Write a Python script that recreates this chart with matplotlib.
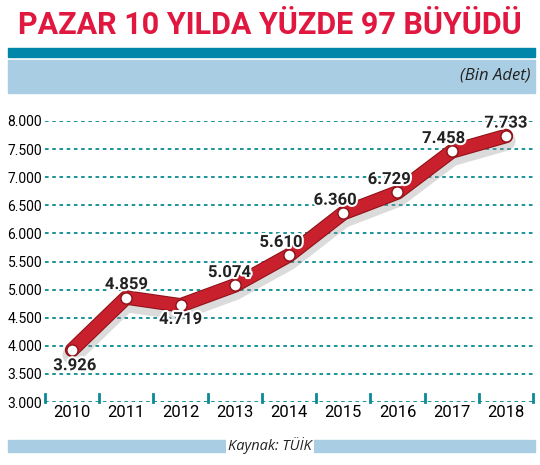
import matplotlib
matplotlib.use("Agg")
import matplotlib.pyplot as plt
import matplotlib.patheffects as pe
from matplotlib.patches import Rectangle

years = ["2010","2011","2012","2013","2014","2015","2016","2017","2018"]
values = [3926, 4859, 4719, 5074, 5610, 6360, 6729, 7458, 7733]
labels = ["3.926","4.859","4.719","5.074","5.610","6.360","6.729","7.458","7.733"]
yticks = [3000,3500,4000,4500,5000,5500,6000,6500,7000,7500,8000]
ytick_labels = ["3.000","3.500","4.000","4.500","5.000","5.500","6.000","6.500","7.000","7.500","8.000"]

fam = ["Roboto", "DejaVu Sans"]
fig = plt.figure(figsize=(5.4, 4.65), dpi=100)
fig.patch.set_facecolor("white")
W, H = 540, 465
def fx(x): return x / W
def fy(y): return 1 - y / H

fig.text(0.5, fy(25), "PAZAR 10 YILDA YÜZDE 97 BÜYÜDÜ", ha="center", va="center",
         fontsize=22, color="#e0173f", family=fam, fontweight="bold")
fig.add_artist(Rectangle((fx(8), fy(57)), fx(527), 9 / H, transform=fig.transFigure, color="#0086a8"))
fig.add_artist(Rectangle((fx(8), fy(93)), fx(527), 33 / H, transform=fig.transFigure, color="#a9cde2"))
fig.text(fx(530), fy(76), "(Bin Adet)", ha="right", va="center", fontsize=12, style="italic",
         color="#222222", family="Open Sans")
fig.add_artist(Rectangle((fx(8), fy(452)), fx(527), 12 / H, transform=fig.transFigure, color="#a9cde2"))
fig.text(0.5, fy(446), "Kaynak: TÜİK", ha="center", va="center", fontsize=10.5, style="italic",
         color="#222222", family="Open Sans",
         bbox=dict(facecolor="white", edgecolor="none", pad=1.5))

ax = fig.add_axes([fx(45), fy(402), fx(488), 281 / H])
x = list(range(len(years)))
ax.set_xlim(-0.5, len(years) - 0.5)
ax.set_ylim(3000, 8000)
for y in yticks:
    ax.axhline(y, color="#0a8a94", lw=1.3, ls=(0, (2, 2)), zorder=1)
ax.plot(x, [v - 90 for v in values], color="#999999", lw=14, alpha=0.35, solid_capstyle="round", zorder=2)
ax.plot(x, values, color="#c8202c", lw=9, solid_capstyle="round", zorder=3,
        path_effects=[pe.Stroke(linewidth=10.5, foreground="#8e1118"), pe.Normal()])
ax.plot(x, values, "o", ms=8, mfc="white", mec="#8e1118", mew=1, zorder=4)

offs = [(0.05, -280), (0, 230), (0, -250), (-0.1, 230), (-0.15, 230), (-0.15, 230),
        (-0.15, 230), (-0.15, 230), (0, 230)]
for xi, v, l, (dx, dy) in zip(x, values, labels, offs):
    ax.text(xi + dx, v + dy, l, ha="center", va="center", fontsize=12, fontweight="bold",
            color="#222222", family=fam, zorder=5,
            path_effects=[pe.withStroke(linewidth=3, foreground="white")])

ax.set_yticks(yticks)
ax.set_yticklabels(ytick_labels, family=fam, fontsize=10)
ax.set_xticks(x)
ax.set_xticklabels(years, family=fam, fontsize=12)
ax.tick_params(axis="both", length=0, pad=2)
for b in [i + 0.5 for i in range(-1, len(years))]:
    ax.plot([b, b], [3000, 3150], color="#0a8a94", lw=2, zorder=2, clip_on=False)
for s in ax.spines.values():
    s.set_visible(False)
fig.savefig("out.png", dpi=100)
